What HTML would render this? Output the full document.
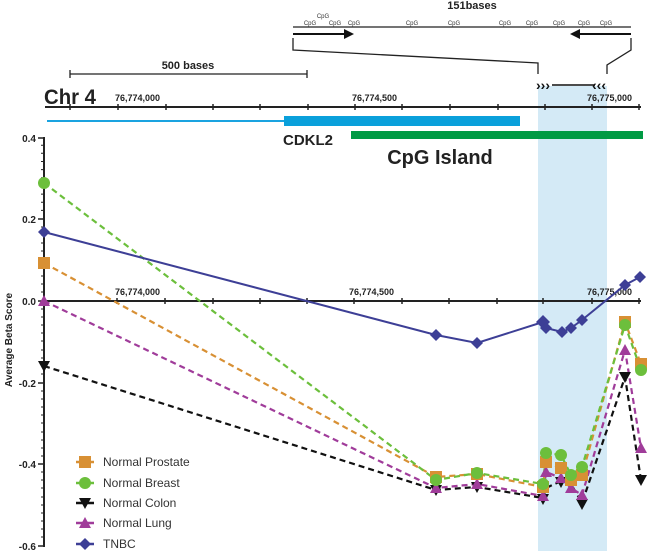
<!DOCTYPE html>
<html><head><meta charset="utf-8"><style>
html,body{margin:0;padding:0;background:#fff;}
svg{display:block;font-family:"Liberation Sans",Arial,sans-serif;}
</style></head><body>
<svg width="647" height="551" viewBox="0 0 647 551" xmlns="http://www.w3.org/2000/svg">
<rect x="538" y="86" width="69" height="465" fill="#d4eaf6"/>
<text x="472" y="9" font-size="11" font-weight="bold" text-anchor="middle" fill="#222">151bases</text>
<g font-size="6" fill="#333" text-anchor="middle">
<text x="310" y="25">CpG</text><text x="323" y="18">CpG</text><text x="335" y="25">CpG</text><text x="354" y="25">CpG</text>
<text x="412" y="25">CpG</text><text x="454" y="25">CpG</text><text x="505" y="25">CpG</text><text x="532" y="25">CpG</text>
<text x="559" y="25">CpG</text><text x="584" y="25">CpG</text><text x="606" y="25">CpG</text>
</g>
<line x1="293" y1="27" x2="631" y2="27" stroke="#222" stroke-width="1.3"/>
<line x1="293" y1="34" x2="346" y2="34" stroke="#111" stroke-width="2"/>
<polygon points="344,29 354,34 344,39" fill="#111"/>
<line x1="578" y1="34" x2="631" y2="34" stroke="#111" stroke-width="2"/>
<polygon points="580,29 570,34 580,39" fill="#111"/>
<polyline points="293,38 293,50 538,63 538,74" fill="none" stroke="#222" stroke-width="1.3"/>
<polyline points="631,38 631,50 607,65 607,74" fill="none" stroke="#222" stroke-width="1.3"/>
<text x="536" y="90" font-size="14" font-weight="bold" fill="#111">›››</text>
<line x1="552" y1="85" x2="595" y2="85" stroke="#111" stroke-width="1.5"/>
<text x="592" y="90" font-size="14" font-weight="bold" fill="#111">‹‹‹</text>
<text x="188" y="69" font-size="11" font-weight="bold" text-anchor="middle" fill="#222">500 bases</text>
<line x1="70" y1="74" x2="307" y2="74" stroke="#222" stroke-width="1.3"/>
<line x1="70" y1="70" x2="70" y2="78" stroke="#222" stroke-width="1.3"/>
<line x1="307" y1="70" x2="307" y2="78" stroke="#222" stroke-width="1.3"/>
<text x="44" y="104" font-size="21" font-weight="bold" fill="#222" textLength="52" lengthAdjust="spacingAndGlyphs">Chr 4</text>
<line x1="45" y1="107" x2="641" y2="107" stroke="#222" stroke-width="2"/>
<g stroke="#222" stroke-width="1.5">
<line x1="70" y1="104" x2="70" y2="110"/><line x1="118" y1="104" x2="118" y2="110"/><line x1="166" y1="104" x2="166" y2="110"/>
<line x1="213" y1="104" x2="213" y2="110"/><line x1="260" y1="104" x2="260" y2="110"/><line x1="308" y1="104" x2="308" y2="110"/>
<line x1="355" y1="104" x2="355" y2="110"/><line x1="402" y1="104" x2="402" y2="110"/><line x1="450" y1="104" x2="450" y2="110"/>
<line x1="498" y1="104" x2="498" y2="110"/><line x1="545" y1="104" x2="545" y2="110"/><line x1="592" y1="104" x2="592" y2="110"/>
<line x1="639" y1="104" x2="639" y2="110"/>
</g>
<g font-size="9" font-weight="bold" fill="#222">
<text x="115" y="101">76,774,000</text><text x="352" y="101">76,774,500</text><text x="587" y="101">76,775,000</text>
</g>
<line x1="47" y1="121" x2="285" y2="121" stroke="#1aa3e0" stroke-width="2"/>
<rect x="284" y="116" width="236" height="10" fill="#0aa0db"/>
<rect x="351" y="131" width="292" height="8" fill="#009a44"/>
<text x="283" y="145" font-size="15" font-weight="bold" fill="#222">CDKL2</text>
<text x="440" y="164" font-size="20" font-weight="bold" fill="#222" text-anchor="middle">CpG Island</text>
<line x1="44" y1="137" x2="44" y2="547" stroke="#222" stroke-width="2"/>
<g stroke="#222" stroke-width="1">
<path d="M41 145.2H44M41 153.3H44M41 161.5H44M41 169.6H44M41 177.8H44M41 186H44M41 194.1H44M41 202.3H44M41 210.4H44M41 227H44M41 235H44M41 243H44M41 251H44M41 259H44M41 268H44M41 276H44M41 284H44M41 292H44M41 309H44M41 317H44M41 325H44M41 333H44M41 341H44M41 350H44M41 358H44M41 366H44M41 374H44M41 391H44M41 399H44M41 407H44M41 415H44M41 423H44M41 432H44M41 440H44M41 448H44M41 456H44M41 472H44M41 480H44M41 488H44M41 497H44M41 505H44M41 513H44M41 521H44M41 529H44M41 537H44"/>
</g>
<g stroke="#222" stroke-width="1.5">
<line x1="38" y1="138" x2="44" y2="138"/><line x1="38" y1="219" x2="44" y2="219"/><line x1="38" y1="301" x2="44" y2="301"/>
<line x1="38" y1="383" x2="44" y2="383"/><line x1="38" y1="464" x2="44" y2="464"/><line x1="38" y1="546" x2="44" y2="546"/>
</g>
<g font-size="10" font-weight="bold" fill="#222" text-anchor="end">
<text x="36" y="142">0.4</text><text x="36" y="223">0.2</text><text x="36" y="305">0.0</text>
<text x="36" y="387">-0.2</text><text x="36" y="468">-0.4</text><text x="36" y="550">-0.6</text>
</g>
<text transform="translate(12,340) rotate(-90)" font-size="10" font-weight="bold" fill="#222" text-anchor="middle">Average Beta Score</text>
<line x1="44" y1="301" x2="641" y2="301" stroke="#222" stroke-width="2"/>
<g stroke="#222" stroke-width="1.5">
<line x1="117" y1="298" x2="117" y2="304"/><line x1="165" y1="298" x2="165" y2="304"/><line x1="213" y1="298" x2="213" y2="304"/>
<line x1="260" y1="298" x2="260" y2="304"/><line x1="307" y1="298" x2="307" y2="304"/><line x1="354" y1="298" x2="354" y2="304"/>
<line x1="402" y1="298" x2="402" y2="304"/><line x1="449" y1="298" x2="449" y2="304"/><line x1="497" y1="298" x2="497" y2="304"/>
<line x1="543" y1="298" x2="543" y2="304"/><line x1="592" y1="298" x2="592" y2="304"/><line x1="639" y1="298" x2="639" y2="304"/>
</g>
<g font-size="9" font-weight="bold" fill="#222">
<text x="115" y="295">76,774,000</text><text x="349" y="295">76,774,500</text><text x="587" y="295">76,775,000</text>
</g>
<g fill="none" stroke-width="2.2" stroke-dasharray="6,4">
<polyline stroke="#111" points="44,366 436,490 477,487 543,498 546,488 561,481 571,484 582,503 625,377 641,480"/>
<polyline stroke="#a03c9a" points="44,301 436,488 477,484 543,496 546,472 561,478 571,488 582,495 625,350 641,448"/>
<polyline stroke="#d89034" points="44,263 436,477 477,474 543,487 546,462 561,468 571,480 582,475 625,322 641,364"/>
<polyline stroke="#6cbf3c" points="44,183 436,480 477,473 543,484 546,453 561,455 571,475 582,467 625,325 641,370"/>
</g>
<polyline fill="none" stroke="#3d3f96" stroke-width="2" points="44,232 436,335 477,343 543,322 546,328 562,332 571,328 582,320 625,285 640,277"/>
<g fill="#111">
<polygon points="38,361 50,361 44,372"/><polygon points="430,485 442,485 436,496"/><polygon points="471,482 483,482 477,493"/>
<polygon points="537,494 549,494 543,505"/><polygon points="555,477 567,477 561,488"/><polygon points="576,499 588,499 582,510"/>
<polygon points="619,372 631,372 625,383"/><polygon points="635,475 647,475 641,486"/>
</g>
<g fill="#a03c9a">
<polygon points="38,306 50,306 44,295"/><polygon points="430,493 442,493 436,482"/><polygon points="471,489 483,489 477,478"/>
<polygon points="537,501 549,501 543,490"/><polygon points="540,477 552,477 546,466"/><polygon points="555,483 567,483 561,472"/>
<polygon points="565,493 577,493 571,482"/><polygon points="576,500 588,500 582,489"/><polygon points="619,355 631,355 625,344"/>
<polygon points="635,453 647,453 641,442"/>
</g>
<g fill="#d89034">
<rect x="38" y="257" width="12" height="12"/><rect x="430" y="471" width="12" height="12"/><rect x="471" y="468" width="12" height="12"/>
<rect x="537" y="481" width="12" height="12"/><rect x="540" y="456" width="12" height="12"/><rect x="555" y="462" width="12" height="12"/>
<rect x="565" y="474" width="12" height="12"/><rect x="576" y="469" width="12" height="12"/><rect x="619" y="316" width="12" height="12"/>
<rect x="635" y="358" width="12" height="12"/>
</g>
<g fill="#6cbf3c">
<circle cx="44" cy="183" r="6"/><circle cx="436" cy="480" r="6"/><circle cx="477" cy="473" r="6"/><circle cx="543" cy="484" r="6"/>
<circle cx="546" cy="453" r="6"/><circle cx="561" cy="455" r="6"/><circle cx="571" cy="475" r="6"/><circle cx="582" cy="467" r="6"/>
<circle cx="625" cy="325" r="6"/><circle cx="641" cy="370" r="6"/>
</g>
<g fill="#3d3f96">
<polygon points="44,226 50,232 44,238 38,232"/><polygon points="436,329 442,335 436,341 430,335"/><polygon points="477,337 483,343 477,349 471,343"/>
<polygon points="543,315 550,322 543,329 536,322"/><polygon points="546,322 552,328 546,334 540,328"/><polygon points="562,326 568,332 562,338 556,332"/>
<polygon points="571,322 577,328 571,334 565,328"/><polygon points="582,314 588,320 582,326 576,320"/><polygon points="625,279 631,285 625,291 619,285"/>
<polygon points="640,271 646,277 640,283 634,277"/>
</g>
<g stroke-width="2.5">
<line x1="76" y1="462" x2="94" y2="462" stroke="#d89034"/><line x1="76" y1="483" x2="94" y2="483" stroke="#6cbf3c"/>
<line x1="76" y1="503" x2="94" y2="503" stroke="#111"/><line x1="76" y1="523" x2="94" y2="523" stroke="#a03c9a"/>
<line x1="76" y1="544" x2="94" y2="544" stroke="#3d3f96"/>
</g>
<rect x="79" y="456" width="12" height="12" fill="#d89034"/>
<circle cx="85" cy="483" r="6" fill="#6cbf3c"/>
<polygon points="79,498 91,498 85,509" fill="#111"/>
<polygon points="79,528 91,528 85,517" fill="#a03c9a"/>
<polygon points="85,538 91,544 85,550 79,544" fill="#3d3f96"/>
<g font-size="12" fill="#333">
<text x="103" y="466">Normal Prostate</text><text x="103" y="487">Normal Breast</text><text x="103" y="507">Normal Colon</text>
<text x="103" y="527">Normal Lung</text><text x="103" y="548">TNBC</text>
</g>
</svg>
</body></html>
